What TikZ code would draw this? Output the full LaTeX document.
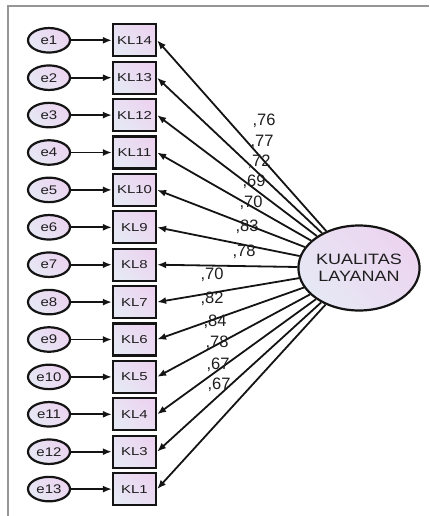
\documentclass[tikz,border=0pt]{standalone}
\usepackage{fontspec}
\setmainfont{Liberation Sans}
\usepackage{graphicx}
\usetikzlibrary{arrows.meta,shapes.geometric}
\definecolor{lavA}{RGB}{230,232,244}
\definecolor{lavB}{RGB}{236,212,240}
\definecolor{ink}{RGB}{20,20,20}
\definecolor{txt}{RGB}{30,30,30}
\definecolor{framegray}{RGB}{150,150,150}
\begin{document}
\begin{tikzpicture}[x=1pt,y=-1pt,
  lav/.style={draw=ink, line width=2.2pt, left color=lavA, right color=lavB, shading angle=135, text=txt},
  errnode/.style={lav, ellipse, minimum width=42pt, minimum height=24.5pt, inner sep=0pt, font=\fontsize{12.5}{12.5}\selectfont},
  obsbox/.style={lav, rectangle, minimum width=43pt, minimum height=32pt, inner sep=0pt, font=\fontsize{11.5}{11.5}\selectfont},
  latent/.style={lav, ellipse, minimum width=119pt, minimum height=85pt, inner sep=0pt, align=center, font=\fontsize{15}{17}\selectfont},
  arr/.style={draw=ink, line width=1.8pt, -{Latex[length=9pt,width=7pt]}},
  coef/.style={inner sep=0pt, text=txt, font=\fontsize{16.5}{16.5}\selectfont}
]
\useasboundingbox (0,0) rectangle (429,516);
\draw[framegray, line width=2pt] (429,6.5) -- (8,6.5) -- (8,516);

\node[latent] (F) at (359,268) {\scalebox{1.2}[1]{KUALITAS}\\\scalebox{1.2}[1]{LAYANAN}};

\foreach \lab/\i [count=\n from 0] in {KL14/1,KL13/2,KL12/3,KL11/4,KL10/5,KL9/6,KL8/7,KL7/8,KL6/9,KL5/10,KL4/11,KL3/12,KL1/13}{
  \node[obsbox] (k\i) at (134.5,{40.3+37.4*\n}) {\scalebox{1.3}[1]{\lab}};
  \node[errnode] (e\i) at (49,{40.3+37.4*\n}) {\scalebox{1.2}[1]{e\i}};
  \draw[arr] (e\i) -- (k\i);
  \draw[arr] (F) -- (k\i.east);
}

\foreach \v/\x/\y [count=\c] in {76/264/121,77/262/141.5,72/259/161.5,69/254/182,70/251/203,83/247/227,78/244/251.5,70/212/275,82/212/299,84/215/321.5,78/217/343,67/218/365,67/219/385}{
  \node[coef] (c\c) at (\x,\y) {,\v};
}
\end{tikzpicture}
\end{document}
